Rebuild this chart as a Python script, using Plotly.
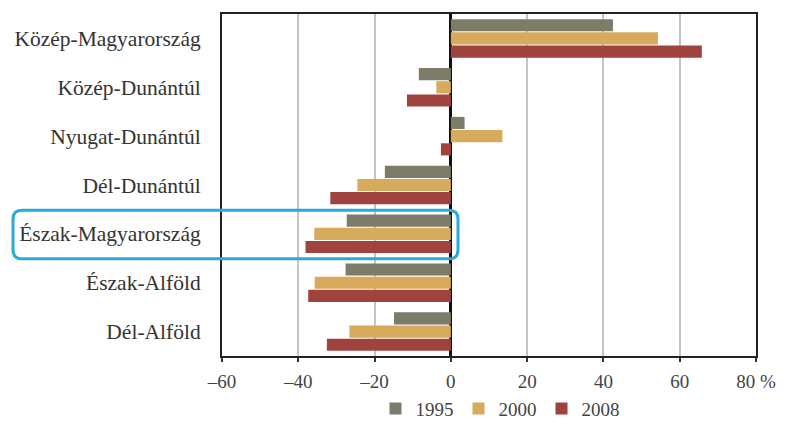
import plotly.graph_objects as go

regions = ["Közép-Magyarország", "Közép-Dunántúl", "Nyugat-Dunántúl", "Dél-Dunántúl",
           "Észak-Magyarország", "Észak-Alföld", "Dél-Alföld"]
years = ["1995", "2000", "2008"]
v1995 = [42.5, -8.4, 3.6, -17.3, -27.3, -27.6, -14.9]
v2000 = [54.3, -3.8, 13.5, -24.5, -35.8, -35.7, -26.6]
v2008 = [65.8, -11.5, -2.6, -31.6, -38.1, -37.4, -32.5]
tick_vals = [-60, -40, -20, 0, 20, 40, 60, 80]
tick_text = ["–60", "–40", "–20", "0", "20", "40", "60", "80 %"]

colors = ["#7d7c69", "#d8aa5c", "#a0433f"]
series = [v1995, v2000, v2008]

OFF = 8  # page body margin in the browser
W, H = 786, 424
# plot area in screen pixels: x 222..756, y 12..357
SL, SR, ST, SB = 222, 756, 12, 357
L, T = SL - OFF, ST - OFF
R = W - (SR - OFF)
B = H - (SB - OFF)
PW, PH = W - L - R, H - T - B

fig = go.Figure()
for name, vals, c in zip(years, series, colors):
    fig.add_trace(go.Bar(y=regions, x=vals, name=name, orientation="h",
                         marker=dict(color=c, line=dict(width=0))))

def px(x):  # screen px -> paper
    return (x - OFF - L) / PW

def py(y):
    return (H - B - (y - OFF)) / PH

# rounded highlight box (screen pixel geometry)
x0, x1, y0, y1, r = 13, 458, 210, 259, 9
path = (f"M {px(x0 + r)} {py(y0)} L {px(x1 - r)} {py(y0)} "
        f"Q {px(x1)} {py(y0)} {px(x1)} {py(y0 + r)} L {px(x1)} {py(y1 - r)} "
        f"Q {px(x1)} {py(y1)} {px(x1 - r)} {py(y1)} L {px(x0 + r)} {py(y1)} "
        f"Q {px(x0)} {py(y1)} {px(x0)} {py(y1 - r)} L {px(x0)} {py(y0 + r)} "
        f"Q {px(x0)} {py(y0)} {px(x0 + r)} {py(y0)} Z")

fig.update_layout(
    width=W, height=H,
    margin=dict(l=L, r=R, t=T, b=B),
    paper_bgcolor="white", plot_bgcolor="white",
    barmode="group", bargap=0.19, bargroupgap=0.08,
    font=dict(family="Liberation Serif", color="#333333"),
    showlegend=True,
    legend=dict(orientation="h", x=px(500), xanchor="center", y=py(410), yanchor="middle",
                traceorder="normal", font=dict(size=19, color="#444444"),
                itemwidth=30, bgcolor="rgba(0,0,0,0)"),
    xaxis=dict(range=[-60, 80], tickvals=tick_vals, ticktext=tick_text,
               showgrid=True, gridcolor="#c4c4c4", gridwidth=1.5,
               zeroline=True, zerolinecolor="#111111", zerolinewidth=2.5,
               showline=True, mirror=True, linecolor="#222222", linewidth=2,
               ticks="outside", ticklen=4, tickwidth=1.5, tickcolor="#333333",
               tickfont=dict(size=19, color="#444444"), ticklabelstandoff=3,
               fixedrange=True),
    yaxis=dict(autorange="reversed", showgrid=False, zeroline=False,
               showline=True, mirror=True, linecolor="#222222", linewidth=2,
               ticks="", tickfont=dict(size=21.5, color="#333333"),
               ticklabelstandoff=15, fixedrange=True),
    shapes=[dict(type="path", path=path, xref="paper", yref="paper",
                 line=dict(color="#2aaad8", width=3), fillcolor="rgba(0,0,0,0)",
                 layer="above")],
)

fig.write_html("out.html", config={"displayModeBar": False})
